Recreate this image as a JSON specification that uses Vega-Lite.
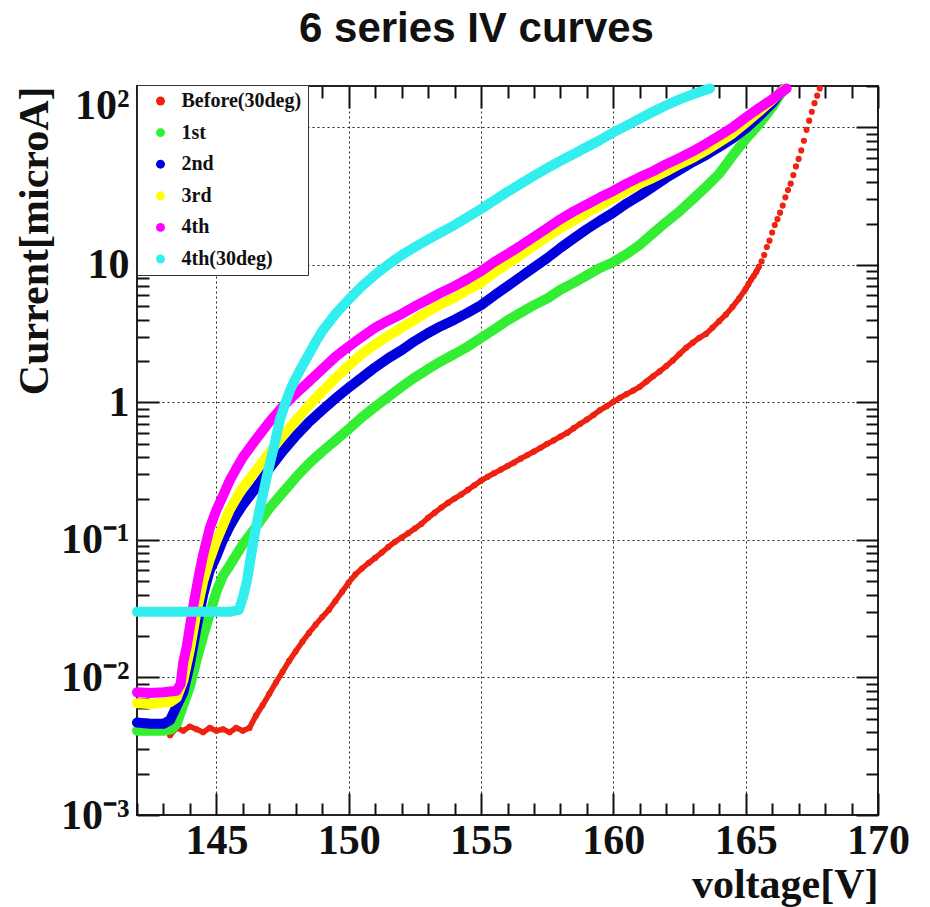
{
"$schema": "https://vega.github.io/schema/vega-lite/v6.json",
"width": 741, "height": 729,
"autosize": {"type": "none"},
"padding": {"left": 137, "top": 86, "right": 52, "bottom": 92},
"background": "white",
"title": {"text": "6 series IV curves", "font": "Liberation Sans", "fontSize": 42, "fontWeight": "bold", "color": "#111", "anchor": "middle", "dx": -31, "offset": 44, "dy": 63, "baseline": "alphabetic"},
"config": {
 "view": {"stroke": "#222", "strokeWidth": 2},
 "axis": {"labelFont": "Liberation Serif", "labelFontWeight": "bold", "labelFontSize": 42, "labelColor": "#111", "titleFont": "Liberation Serif", "titleFontWeight": "bold", "titleFontSize": 42, "titleColor": "#111", "tickColor": "#111", "tickWidth": 2, "domain": false, "gridColor": "#222", "gridDash": [2, 3], "gridWidth": 1, "labelOverlap": false, "labelFlush": false, "labelBound": false}
},
"datasets": {"iv": [
{"s":"Before(30deg)","v":143.25,"i":0.0038},{"s":"Before(30deg)","v":143.5,"i":0.0043},{"s":"Before(30deg)","v":143.75,"i":0.0041},{"s":"Before(30deg)","v":144,"i":0.0044},{"s":"Before(30deg)","v":144.25,"i":0.0042},{"s":"Before(30deg)","v":144.5,"i":0.004},{"s":"Before(30deg)","v":144.75,"i":0.0043},{"s":"Before(30deg)","v":145,"i":0.0041},{"s":"Before(30deg)","v":145.25,"i":0.0042},{"s":"Before(30deg)","v":145.5,"i":0.004},{"s":"Before(30deg)","v":145.75,"i":0.0043},{"s":"Before(30deg)","v":146,"i":0.0041},{"s":"Before(30deg)","v":146.25,"i":0.0043},{"s":"Before(30deg)","v":146.5,"i":0.0053},{"s":"Before(30deg)","v":146.75,"i":0.0063},{"s":"Before(30deg)","v":147,"i":0.0076},{"s":"Before(30deg)","v":147.25,"i":0.0092},{"s":"Before(30deg)","v":147.5,"i":0.011},{"s":"Before(30deg)","v":147.75,"i":0.0132},{"s":"Before(30deg)","v":148,"i":0.0155},{"s":"Before(30deg)","v":148.25,"i":0.0182},{"s":"Before(30deg)","v":148.5,"i":0.0211},{"s":"Before(30deg)","v":148.75,"i":0.0242},{"s":"Before(30deg)","v":149,"i":0.0275},{"s":"Before(30deg)","v":149.25,"i":0.031},{"s":"Before(30deg)","v":149.5,"i":0.036},{"s":"Before(30deg)","v":149.75,"i":0.042},{"s":"Before(30deg)","v":150,"i":0.049},{"s":"Before(30deg)","v":150.25,"i":0.056},{"s":"Before(30deg)","v":150.5,"i":0.062},{"s":"Before(30deg)","v":150.75,"i":0.068},{"s":"Before(30deg)","v":151,"i":0.074},{"s":"Before(30deg)","v":151.25,"i":0.081},{"s":"Before(30deg)","v":151.5,"i":0.089},{"s":"Before(30deg)","v":151.75,"i":0.097},{"s":"Before(30deg)","v":152,"i":0.104},{"s":"Before(30deg)","v":152.25,"i":0.112},{"s":"Before(30deg)","v":152.5,"i":0.121},{"s":"Before(30deg)","v":152.75,"i":0.131},{"s":"Before(30deg)","v":153,"i":0.145},{"s":"Before(30deg)","v":153.25,"i":0.158},{"s":"Before(30deg)","v":153.5,"i":0.172},{"s":"Before(30deg)","v":153.75,"i":0.186},{"s":"Before(30deg)","v":154,"i":0.2},{"s":"Before(30deg)","v":154.25,"i":0.214},{"s":"Before(30deg)","v":154.5,"i":0.231},{"s":"Before(30deg)","v":154.75,"i":0.25},{"s":"Before(30deg)","v":155,"i":0.27},{"s":"Before(30deg)","v":155.25,"i":0.288},{"s":"Before(30deg)","v":155.5,"i":0.306},{"s":"Before(30deg)","v":155.75,"i":0.325},{"s":"Before(30deg)","v":156,"i":0.345},{"s":"Before(30deg)","v":156.25,"i":0.366},{"s":"Before(30deg)","v":156.5,"i":0.39},{"s":"Before(30deg)","v":156.75,"i":0.414},{"s":"Before(30deg)","v":157,"i":0.44},{"s":"Before(30deg)","v":157.25,"i":0.468},{"s":"Before(30deg)","v":157.5,"i":0.5},{"s":"Before(30deg)","v":157.75,"i":0.53},{"s":"Before(30deg)","v":158,"i":0.565},{"s":"Before(30deg)","v":158.25,"i":0.6},{"s":"Before(30deg)","v":158.5,"i":0.65},{"s":"Before(30deg)","v":158.75,"i":0.7},{"s":"Before(30deg)","v":159,"i":0.75},{"s":"Before(30deg)","v":159.25,"i":0.81},{"s":"Before(30deg)","v":159.5,"i":0.88},{"s":"Before(30deg)","v":159.75,"i":0.94},{"s":"Before(30deg)","v":160,"i":1.01},{"s":"Before(30deg)","v":160.25,"i":1.08},{"s":"Before(30deg)","v":160.5,"i":1.15},{"s":"Before(30deg)","v":160.75,"i":1.22},{"s":"Before(30deg)","v":161,"i":1.3},{"s":"Before(30deg)","v":161.25,"i":1.42},{"s":"Before(30deg)","v":161.5,"i":1.55},{"s":"Before(30deg)","v":161.75,"i":1.68},{"s":"Before(30deg)","v":162,"i":1.84},{"s":"Before(30deg)","v":162.25,"i":2.02},{"s":"Before(30deg)","v":162.5,"i":2.25},{"s":"Before(30deg)","v":162.75,"i":2.5},{"s":"Before(30deg)","v":163,"i":2.72},{"s":"Before(30deg)","v":163.25,"i":2.95},{"s":"Before(30deg)","v":163.5,"i":3.15},{"s":"Before(30deg)","v":163.75,"i":3.5},{"s":"Before(30deg)","v":164,"i":3.9},{"s":"Before(30deg)","v":164.25,"i":4.35},{"s":"Before(30deg)","v":164.5,"i":4.95},{"s":"Before(30deg)","v":164.75,"i":5.7},{"s":"Before(30deg)","v":165,"i":6.7},{"s":"Before(30deg)","v":165.1,"i":7.2},{"s":"Before(30deg)","v":165.2,"i":7.8},{"s":"Before(30deg)","v":165.3,"i":8.3},{"s":"Before(30deg)","v":165.4,"i":8.9},{"s":"Before(30deg)","v":165.5,"i":9.7},{"s":"Before(30deg)","v":165.6,"i":10.6},{"s":"Before(30deg)","v":165.7,"i":11.8},{"s":"Before(30deg)","v":165.8,"i":13.5},{"s":"Before(30deg)","v":165.9,"i":15},{"s":"Before(30deg)","v":166,"i":17.2},{"s":"Before(30deg)","v":166.1,"i":19.5},{"s":"Before(30deg)","v":166.2,"i":21.5},{"s":"Before(30deg)","v":166.3,"i":24},{"s":"Before(30deg)","v":166.4,"i":27},{"s":"Before(30deg)","v":166.5,"i":31},{"s":"Before(30deg)","v":166.6,"i":35},{"s":"Before(30deg)","v":166.7,"i":39},{"s":"Before(30deg)","v":166.8,"i":45},{"s":"Before(30deg)","v":166.9,"i":52},{"s":"Before(30deg)","v":167,"i":59},{"s":"Before(30deg)","v":167.1,"i":68},{"s":"Before(30deg)","v":167.2,"i":80},{"s":"Before(30deg)","v":167.3,"i":96},{"s":"Before(30deg)","v":167.4,"i":112},{"s":"Before(30deg)","v":167.5,"i":130},{"s":"Before(30deg)","v":167.6,"i":150},{"s":"Before(30deg)","v":167.7,"i":170},{"s":"Before(30deg)","v":167.8,"i":192},
{"s":"1st","v":142,"i":0.0041},{"s":"1st","v":142.5,"i":0.0041},{"s":"1st","v":143,"i":0.0041},{"s":"1st","v":143.3,"i":0.0042},{"s":"1st","v":143.5,"i":0.0046},{"s":"1st","v":143.75,"i":0.0063},{"s":"1st","v":144,"i":0.0086},{"s":"1st","v":144.25,"i":0.0134},{"s":"1st","v":144.5,"i":0.02},{"s":"1st","v":144.75,"i":0.029},{"s":"1st","v":145,"i":0.042},{"s":"1st","v":145.25,"i":0.055},{"s":"1st","v":145.5,"i":0.065},{"s":"1st","v":145.75,"i":0.078},{"s":"1st","v":146,"i":0.093},{"s":"1st","v":146.5,"i":0.125},{"s":"1st","v":147,"i":0.17},{"s":"1st","v":147.5,"i":0.22},{"s":"1st","v":148,"i":0.285},{"s":"1st","v":148.5,"i":0.36},{"s":"1st","v":149,"i":0.44},{"s":"1st","v":149.5,"i":0.53},{"s":"1st","v":150,"i":0.64},{"s":"1st","v":150.5,"i":0.78},{"s":"1st","v":151,"i":0.93},{"s":"1st","v":151.5,"i":1.1},{"s":"1st","v":152,"i":1.3},{"s":"1st","v":152.5,"i":1.52},{"s":"1st","v":153,"i":1.75},{"s":"1st","v":153.5,"i":2.0},{"s":"1st","v":154,"i":2.25},{"s":"1st","v":154.5,"i":2.55},{"s":"1st","v":155,"i":2.95},{"s":"1st","v":155.5,"i":3.4},{"s":"1st","v":156,"i":3.95},{"s":"1st","v":156.5,"i":4.5},{"s":"1st","v":157,"i":5.1},{"s":"1st","v":157.5,"i":5.7},{"s":"1st","v":158,"i":6.6},{"s":"1st","v":158.5,"i":7.4},{"s":"1st","v":159,"i":8.4},{"s":"1st","v":159.5,"i":9.5},{"s":"1st","v":160,"i":10.5},{"s":"1st","v":160.5,"i":12},{"s":"1st","v":161,"i":14},{"s":"1st","v":161.5,"i":17},{"s":"1st","v":162,"i":20.5},{"s":"1st","v":162.5,"i":24.5},{"s":"1st","v":163,"i":30},{"s":"1st","v":163.5,"i":37},{"s":"1st","v":164,"i":46},{"s":"1st","v":164.5,"i":62},{"s":"1st","v":165,"i":82},{"s":"1st","v":165.5,"i":105},{"s":"1st","v":166,"i":140},{"s":"1st","v":166.4,"i":185},
{"s":"2nd","v":142,"i":0.0047},{"s":"2nd","v":142.5,"i":0.0046},{"s":"2nd","v":143,"i":0.0046},{"s":"2nd","v":143.25,"i":0.0049},{"s":"2nd","v":143.5,"i":0.0062},{"s":"2nd","v":143.75,"i":0.0078},{"s":"2nd","v":144,"i":0.0125},{"s":"2nd","v":144.25,"i":0.023},{"s":"2nd","v":144.5,"i":0.04},{"s":"2nd","v":144.75,"i":0.06},{"s":"2nd","v":145,"i":0.076},{"s":"2nd","v":145.25,"i":0.1},{"s":"2nd","v":145.5,"i":0.125},{"s":"2nd","v":145.75,"i":0.152},{"s":"2nd","v":146,"i":0.18},{"s":"2nd","v":146.5,"i":0.24},{"s":"2nd","v":147,"i":0.33},{"s":"2nd","v":147.5,"i":0.44},{"s":"2nd","v":148,"i":0.57},{"s":"2nd","v":148.5,"i":0.72},{"s":"2nd","v":149,"i":0.88},{"s":"2nd","v":149.5,"i":1.07},{"s":"2nd","v":150,"i":1.28},{"s":"2nd","v":150.5,"i":1.52},{"s":"2nd","v":151,"i":1.8},{"s":"2nd","v":151.5,"i":2.1},{"s":"2nd","v":152,"i":2.4},{"s":"2nd","v":152.5,"i":2.8},{"s":"2nd","v":153,"i":3.2},{"s":"2nd","v":153.5,"i":3.6},{"s":"2nd","v":154,"i":4.0},{"s":"2nd","v":154.5,"i":4.5},{"s":"2nd","v":155,"i":5.1},{"s":"2nd","v":155.5,"i":6.0},{"s":"2nd","v":156,"i":7.0},{"s":"2nd","v":156.5,"i":8.2},{"s":"2nd","v":157,"i":9.6},{"s":"2nd","v":157.5,"i":11.2},{"s":"2nd","v":158,"i":13.3},{"s":"2nd","v":158.5,"i":15.6},{"s":"2nd","v":159,"i":18.2},{"s":"2nd","v":159.5,"i":21},{"s":"2nd","v":160,"i":24},{"s":"2nd","v":160.5,"i":28},{"s":"2nd","v":161,"i":32},{"s":"2nd","v":161.5,"i":37},{"s":"2nd","v":162,"i":43},{"s":"2nd","v":162.5,"i":49},{"s":"2nd","v":163,"i":56},{"s":"2nd","v":163.5,"i":63},{"s":"2nd","v":164,"i":72},{"s":"2nd","v":164.5,"i":83},{"s":"2nd","v":165,"i":98},{"s":"2nd","v":165.5,"i":120},{"s":"2nd","v":166,"i":150},{"s":"2nd","v":166.4,"i":190},
{"s":"3rd","v":142,"i":0.0065},{"s":"3rd","v":142.5,"i":0.0064},{"s":"3rd","v":143,"i":0.0066},{"s":"3rd","v":143.25,"i":0.0066},{"s":"3rd","v":143.5,"i":0.0071},{"s":"3rd","v":143.75,"i":0.0095},{"s":"3rd","v":144,"i":0.016},{"s":"3rd","v":144.25,"i":0.03},{"s":"3rd","v":144.5,"i":0.05},{"s":"3rd","v":144.75,"i":0.072},{"s":"3rd","v":145,"i":0.098},{"s":"3rd","v":145.25,"i":0.128},{"s":"3rd","v":145.5,"i":0.165},{"s":"3rd","v":145.75,"i":0.2},{"s":"3rd","v":146,"i":0.24},{"s":"3rd","v":146.5,"i":0.32},{"s":"3rd","v":147,"i":0.43},{"s":"3rd","v":147.5,"i":0.57},{"s":"3rd","v":148,"i":0.74},{"s":"3rd","v":148.5,"i":0.95},{"s":"3rd","v":149,"i":1.2},{"s":"3rd","v":149.5,"i":1.5},{"s":"3rd","v":150,"i":1.85},{"s":"3rd","v":150.5,"i":2.25},{"s":"3rd","v":151,"i":2.65},{"s":"3rd","v":151.5,"i":3.05},{"s":"3rd","v":152,"i":3.5},{"s":"3rd","v":152.5,"i":4.0},{"s":"3rd","v":153,"i":4.6},{"s":"3rd","v":153.5,"i":5.2},{"s":"3rd","v":154,"i":5.8},{"s":"3rd","v":154.5,"i":6.6},{"s":"3rd","v":155,"i":7.4},{"s":"3rd","v":155.5,"i":8.8},{"s":"3rd","v":156,"i":10.2},{"s":"3rd","v":156.5,"i":11.8},{"s":"3rd","v":157,"i":13.8},{"s":"3rd","v":157.5,"i":16},{"s":"3rd","v":158,"i":18.5},{"s":"3rd","v":158.5,"i":21},{"s":"3rd","v":159,"i":24},{"s":"3rd","v":159.5,"i":27},{"s":"3rd","v":160,"i":30.5},{"s":"3rd","v":160.5,"i":34.5},{"s":"3rd","v":161,"i":39},{"s":"3rd","v":161.5,"i":43},{"s":"3rd","v":162,"i":48},{"s":"3rd","v":162.5,"i":54},{"s":"3rd","v":163,"i":60},{"s":"3rd","v":163.5,"i":68},{"s":"3rd","v":164,"i":78},{"s":"3rd","v":164.5,"i":90},{"s":"3rd","v":165,"i":108},{"s":"3rd","v":165.5,"i":130},{"s":"3rd","v":166,"i":158},{"s":"3rd","v":166.45,"i":190},
{"s":"4th","v":142,"i":0.0078},{"s":"4th","v":142.5,"i":0.0077},{"s":"4th","v":143,"i":0.0078},{"s":"4th","v":143.25,"i":0.0079},{"s":"4th","v":143.5,"i":0.008},{"s":"4th","v":143.65,"i":0.009},{"s":"4th","v":143.75,"i":0.013},{"s":"4th","v":143.88,"i":0.0168},{"s":"4th","v":144,"i":0.0235},{"s":"4th","v":144.15,"i":0.035},{"s":"4th","v":144.33,"i":0.054},{"s":"4th","v":144.5,"i":0.078},{"s":"4th","v":144.75,"i":0.122},{"s":"4th","v":145,"i":0.165},{"s":"4th","v":145.25,"i":0.21},{"s":"4th","v":145.5,"i":0.27},{"s":"4th","v":145.75,"i":0.33},{"s":"4th","v":146,"i":0.4},{"s":"4th","v":146.5,"i":0.54},{"s":"4th","v":147,"i":0.72},{"s":"4th","v":147.5,"i":0.93},{"s":"4th","v":148,"i":1.16},{"s":"4th","v":148.5,"i":1.42},{"s":"4th","v":149,"i":1.75},{"s":"4th","v":149.5,"i":2.15},{"s":"4th","v":150,"i":2.55},{"s":"4th","v":150.5,"i":3.0},{"s":"4th","v":151,"i":3.5},{"s":"4th","v":151.5,"i":3.95},{"s":"4th","v":152,"i":4.4},{"s":"4th","v":152.5,"i":5.0},{"s":"4th","v":153,"i":5.6},{"s":"4th","v":153.5,"i":6.3},{"s":"4th","v":154,"i":7.0},{"s":"4th","v":154.5,"i":7.9},{"s":"4th","v":155,"i":9.0},{"s":"4th","v":155.5,"i":10.5},{"s":"4th","v":156,"i":12},{"s":"4th","v":156.5,"i":13.8},{"s":"4th","v":157,"i":16},{"s":"4th","v":157.5,"i":18.5},{"s":"4th","v":158,"i":21.5},{"s":"4th","v":158.5,"i":24.5},{"s":"4th","v":159,"i":27.5},{"s":"4th","v":159.5,"i":31},{"s":"4th","v":160,"i":34.5},{"s":"4th","v":160.5,"i":39},{"s":"4th","v":161,"i":43.5},{"s":"4th","v":161.5,"i":48},{"s":"4th","v":162,"i":54},{"s":"4th","v":162.5,"i":60},{"s":"4th","v":163,"i":67},{"s":"4th","v":163.5,"i":76},{"s":"4th","v":164,"i":87},{"s":"4th","v":164.5,"i":100},{"s":"4th","v":165,"i":118},{"s":"4th","v":165.5,"i":138},{"s":"4th","v":166,"i":160},{"s":"4th","v":166.55,"i":192},
{"s":"4th(30deg)","v":142,"i":0.03},{"s":"4th(30deg)","v":142.5,"i":0.03},{"s":"4th(30deg)","v":143,"i":0.03},{"s":"4th(30deg)","v":143.5,"i":0.03},{"s":"4th(30deg)","v":144,"i":0.03},{"s":"4th(30deg)","v":144.5,"i":0.03},{"s":"4th(30deg)","v":145,"i":0.03},{"s":"4th(30deg)","v":145.5,"i":0.03},{"s":"4th(30deg)","v":145.85,"i":0.031},{"s":"4th(30deg)","v":146,"i":0.038},{"s":"4th(30deg)","v":146.15,"i":0.05},{"s":"4th(30deg)","v":146.3,"i":0.075},{"s":"4th(30deg)","v":146.45,"i":0.112},{"s":"4th(30deg)","v":146.6,"i":0.155},{"s":"4th(30deg)","v":146.75,"i":0.21},{"s":"4th(30deg)","v":146.9,"i":0.285},{"s":"4th(30deg)","v":147.05,"i":0.38},{"s":"4th(30deg)","v":147.2,"i":0.5},{"s":"4th(30deg)","v":147.4,"i":0.75},{"s":"4th(30deg)","v":147.6,"i":0.98},{"s":"4th(30deg)","v":147.8,"i":1.25},{"s":"4th(30deg)","v":148,"i":1.5},{"s":"4th(30deg)","v":148.25,"i":1.85},{"s":"4th(30deg)","v":148.5,"i":2.25},{"s":"4th(30deg)","v":148.75,"i":2.75},{"s":"4th(30deg)","v":149,"i":3.3},{"s":"4th(30deg)","v":149.5,"i":4.4},{"s":"4th(30deg)","v":150,"i":5.6},{"s":"4th(30deg)","v":150.5,"i":7.0},{"s":"4th(30deg)","v":151,"i":8.5},{"s":"4th(30deg)","v":151.5,"i":10.1},{"s":"4th(30deg)","v":152,"i":11.8},{"s":"4th(30deg)","v":152.5,"i":13.5},{"s":"4th(30deg)","v":153,"i":15.3},{"s":"4th(30deg)","v":153.5,"i":17.3},{"s":"4th(30deg)","v":154,"i":19.5},{"s":"4th(30deg)","v":154.5,"i":22.3},{"s":"4th(30deg)","v":155,"i":25.5},{"s":"4th(30deg)","v":155.5,"i":29.5},{"s":"4th(30deg)","v":156,"i":34},{"s":"4th(30deg)","v":156.5,"i":39},{"s":"4th(30deg)","v":157,"i":44.5},{"s":"4th(30deg)","v":157.5,"i":50.5},{"s":"4th(30deg)","v":158,"i":57},{"s":"4th(30deg)","v":158.5,"i":64},{"s":"4th(30deg)","v":159,"i":72},{"s":"4th(30deg)","v":159.5,"i":81},{"s":"4th(30deg)","v":160,"i":92},{"s":"4th(30deg)","v":160.5,"i":103},{"s":"4th(30deg)","v":161,"i":116},{"s":"4th(30deg)","v":161.5,"i":130},{"s":"4th(30deg)","v":162,"i":145},{"s":"4th(30deg)","v":162.5,"i":160},{"s":"4th(30deg)","v":163,"i":174},{"s":"4th(30deg)","v":163.65,"i":192}
]},
"data": {"name": "iv"},
"layer": [
 {
  "transform": [{"filter": "datum.s === 'Before(30deg)' && datum.v <= 165.5"}],
  "mark": {"type": "line", "strokeWidth": 5.5, "strokeCap": "round", "strokeJoin": "round"},
  "encoding": {
   "x": {"field": "v", "type": "quantitative", "axis": null},
   "y": {"field": "i", "type": "quantitative", "axis": null},
   "color": {"field": "s", "type": "nominal"}
  }
 },
 {
  "transform": [{"filter": "datum.s === 'Before(30deg)'"}],
  "mark": {"type": "point", "filled": true, "opacity": 1, "size": 38, "shape": "circle"},
  "encoding": {
   "x": {"field": "v", "type": "quantitative", "scale": {"domain": [142, 170], "nice": false, "zero": false},
    "axis": {"orient": "bottom", "values": [142,143,144,145,146,147,148,149,150,151,152,153,154,155,156,157,158,159,160,161,162,163,164,165,166,167,168,169,170],
     "labelExpr": "datum.value % 5 === 0 ? datum.label : ''",
     "tickSize": {"condition": {"test": "datum.value % 5 === 0", "value": -22}, "value": -12},
     "grid": true,
     "gridOpacity": {"condition": {"test": "datum.value % 5 === 0 && datum.value < 170", "value": 1}, "value": 0},
     "labelPadding": 27,
     "title": "voltage[V]", "titleX": 741, "titleY": 82, "titleAlign": "right", "titleBaseline": "alphabetic"}},
   "y": {"field": "i", "type": "quantitative", "scale": {"type": "log", "domain": [0.001, 200], "nice": false},
    "axis": {"orient": "left", "values": [0.001,0.002,0.003,0.004,0.005,0.006,0.007,0.008,0.009,0.01,0.02,0.03,0.04,0.05,0.06,0.07,0.08,0.09,0.1,0.2,0.3,0.4,0.5,0.6,0.7,0.8,0.9,1,2,3,4,5,6,7,8,9,10,20,30,40,50,60,70,80,90,100,200],
     "labelExpr": "datum.value === 100 ? '10²' : datum.value === 10 ? '10' : datum.value === 1 ? '1' : datum.value === 0.1 ? '10⁻¹' : datum.value === 0.01 ? '10⁻²' : datum.value === 0.001 ? '10⁻³' : ''",
     "tickSize": {"condition": {"test": "abs(log(datum.value)/LN10 - round(log(datum.value)/LN10)) < 0.001", "value": -22}, "value": -12},
     "labelOffset": {"condition": {"test": "datum.value === 100", "value": -22}, "value": 0},
     "grid": true,
     "gridOpacity": {"condition": {"test": "abs(log(datum.value)/LN10 - round(log(datum.value)/LN10)) < 0.001 && datum.value > 0.0015", "value": 1}, "value": 0},
     "labelPadding": 30,
     "title": "Current[microA]", "titleX": -90, "titleY": 0, "titleAngle": -90, "titleAlign": "right", "titleBaseline": "alphabetic"}},
   "color": {"field": "s", "type": "nominal",
    "scale": {"domain": ["Before(30deg)", "1st", "2nd", "3rd", "4th", "4th(30deg)"], "range": ["#ee2211", "#33ee33", "#0000dd", "#ffff00", "#ff00ff", "#33eeee"]},
    "legend": {"orient": "none", "legendX": 0, "legendY": -1, "title": null, "padding": 6, "fillColor": "white", "strokeColor": "#333",
     "labelFont": "Liberation Serif", "labelFontWeight": "bold", "labelFontSize": 20, "labelColor": "#111", "rowPadding": 11.6,
     "symbolOffset": 7.5, "labelOffset": 11, "symbolType": "circle", "symbolSize": 80, "symbolStrokeWidth": 0, "zindex": 3,
     "encode": {"legend": {"update": {"strokeWidth": {"value": 2}}}, "symbols": {"update": {"fill": {"scale": "color", "field": "value"}, "size": {"signal": "datum.value === 'Before(30deg)' ? 30 : 80"}, "shape": {"value": "circle"}, "strokeWidth": {"value": 0}}}}}}
  }
 },
 {
  "transform": [{"filter": "datum.s !== 'Before(30deg)'"}],
  "mark": {"type": "line", "strokeWidth": 10, "strokeCap": "round", "strokeJoin": "round"},
  "encoding": {
   "x": {"field": "v", "type": "quantitative",
    "axis": {"orient": "top", "values": [142,143,144,145,146,147,148,149,150,151,152,153,154,155,156,157,158,159,160,161,162,163,164,165,166,167,168,169,170],
     "labels": false, "grid": false, "title": null,
     "tickSize": {"condition": {"test": "datum.value % 5 === 0", "value": -22}, "value": -12}}},
   "y": {"field": "i", "type": "quantitative",
    "axis": {"orient": "right", "values": [0.001,0.002,0.003,0.004,0.005,0.006,0.007,0.008,0.009,0.01,0.02,0.03,0.04,0.05,0.06,0.07,0.08,0.09,0.1,0.2,0.3,0.4,0.5,0.6,0.7,0.8,0.9,1,2,3,4,5,6,7,8,9,10,20,30,40,50,60,70,80,90,100,200],
     "labels": false, "grid": false, "title": null,
     "tickSize": {"condition": {"test": "abs(log(datum.value)/LN10 - round(log(datum.value)/LN10)) < 0.001", "value": -22}, "value": -12}}},
   "color": {"field": "s", "type": "nominal"}
  }
 }
],
"resolve": {"axis": {"x": "independent", "y": "independent"}}
}
